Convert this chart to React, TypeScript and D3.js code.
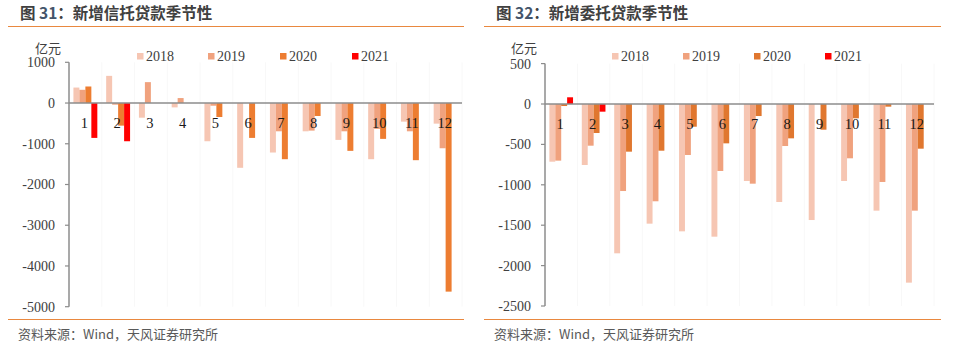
import React from "react";
import * as d3 from "d3";

const months = ["1", "2", "3", "4", "5", "6", "7", "8", "9", "10", "11", "12"];
const seriesNames = ["2018", "2019", "2020", "2021"];

// 新增信托贷款 (亿元)
const trust2018 = [380, 667, -360, -107, -938, -1590, -1215, -694, -905, -1379, -457, -506];
const trust2019 = [325, -40, 513, 122, -66, 0, -694, -677, -694, -636, -694, -1110];
const trust2020 = [406, -555, 0, 0, -343, -856, -1379, -318, -1174, -880, -1403, -4630];
const trust2021 = [-856, -938, null, null, null, null, null, null, null, null, null, null];

// 新增委托贷款 (亿元)
const entr2018 = [-714, -755, -1848, -1481, -1576, -1642, -953, -1213, -1436, -953, -1320, -2211];
const entr2019 = [-701, -516, -1077, -1204, -631, -829, -986, -520, 0, -672, -965, -1320];
const entr2020 = [-25, -359, -590, -578, -281, -487, -149, -425, -318, -177, -33, -553];
const entr2021 = [83, -95, null, null, null, null, null, null, null, null, null, null];

const leftTicks = [1000, 0, -1000, -2000, -3000, -4000, -5000];
const rightTicks = [500, 0, -500, -1000, -1500, -2000, -2500];

const colorsLeft = ["#F6C6B3", "#F0A27E", "#ED7D31", "#FF0000"];
const colorsRight = ["#F6C6B3", "#F0A27E", "#E0772F", "#FF0000"];

type PanelProps = {
  title: string;
  num: string;
  series: (number | null)[][];
  ticks: number[];
  colors: string[];
  x0: number;
  x1: number;
  yTop: number;
  yBot: number;
  dMax: number;
  dMin: number;
  lineX0: number;
  lineX1: number;
  titleX: number;
  unitX: number;
  legendX: number[];
};

const serif = "'Liberation Serif', 'Times New Roman', serif";
const cjk = "'Noto Sans CJK SC', 'Noto Sans', sans-serif";

function Panel(p: PanelProps) {
  const x = d3
    .scaleBand<string>()
    .domain(months)
    .range([p.x0, p.x1])
    .paddingInner(0.27)
    .paddingOuter(0.135);
  const xi = d3.scaleBand<string>().domain(seriesNames).range([0, x.bandwidth()]);
  const y = d3.scaleLinear().domain([p.dMin, p.dMax]).range([p.yBot, p.yTop]);
  const y0 = y(0);
  const step = x.step();

  return (
    <g>
      <text x={p.titleX} y={19} fontFamily={cjk} fontWeight={700} fontSize={15.5} fill="#404040">
        图 <tspan fill="#44546A">{p.num}</tspan>：{p.title}
      </text>
      <line x1={p.lineX0} x2={p.lineX1} y1={26.5} y2={26.5} stroke="#E9883F" strokeWidth={1.2} />
      <line x1={p.lineX0} x2={p.lineX1} y1={319.5} y2={319.5} stroke="#E9883F" strokeWidth={1.2} />
      <text x={p.titleX - 2} y={339} fontFamily={cjk} fontSize={13} fill="#595959">
        资料来源：Wind，天风证券研究所
      </text>

      {/* faint vertical grid */}
      {months.map((m, i) => (
        <line
          key={"g" + m}
          x1={p.x0 + step * (i + 1)}
          x2={p.x0 + step * (i + 1)}
          y1={p.yTop}
          y2={p.yBot}
          stroke="#F8F8F8"
          strokeWidth={1}
        />
      ))}

      {/* bars */}
      {p.series.map((vals, si) =>
        vals.map((v, mi) => {
          if (v === null || v === 0) return null;
          const bx = (x(months[mi]) as number) + (xi(seriesNames[si]) as number);
          const yy = y(v);
          return (
            <rect
              key={si + "-" + mi}
              x={bx}
              width={xi.bandwidth()}
              y={Math.min(yy, y0)}
              height={Math.abs(yy - y0)}
              fill={p.colors[si]}
            />
          );
        })
      )}

      {/* zero line */}
      <line x1={p.x0} x2={p.x1} y1={y0} y2={y0} stroke="#8C8C8C" strokeWidth={1.5} />
      {/* y axis */}
      <line x1={p.x0} x2={p.x0} y1={p.yTop} y2={p.yBot} stroke="#8C8C8C" strokeWidth={1.5} />
      {p.ticks.map((t) => (
        <g key={"t" + t}>
          <line x1={p.x0 - 4} x2={p.x0} y1={y(t)} y2={y(t)} stroke="#8C8C8C" strokeWidth={1.2} />
          <text
            x={p.x0 - 14}
            y={y(t)}
            dy="0.35em"
            textAnchor="end"
            fontFamily={serif}
            fontSize={14}
            fill="#404040"
          >
            {t}
          </text>
        </g>
      ))}

      {/* category labels */}
      {months.map((m) => (
        <text
          key={"c" + m}
          x={(x(m) as number) + x.bandwidth() / 2 - 1}
          y={y0 + 25}
          textAnchor="middle"
          fontFamily={serif}
          fontSize={14.5}
          fill="#1a1a1a"
        >
          {m}
        </text>
      ))}

      {/* unit */}
      <text x={p.unitX} y={52.5} fontFamily={cjk} fontSize={13} fill="#404040">
        亿元
      </text>

      {/* legend */}
      {seriesNames.map((s, i) => (
        <g key={"l" + s}>
          <rect x={p.legendX[i]} y={53} width={6.5} height={6.5} fill={p.colors[i]} />
          <text x={p.legendX[i] + 9} y={61} fontFamily={serif} fontSize={14} fill="#404040">
            {s}
          </text>
        </g>
      ))}
    </g>
  );
}

export default function App() {
  return (
    <svg width={953} height={348} style={{ position: "absolute", left: 0, top: 0, background: "#fff" }}>
      <rect width={953} height={348} fill="#fff" />
      <Panel
        title="新增信托贷款季节性"
        num="31"
        series={[trust2018, trust2019, trust2020, trust2021]}
        ticks={leftTicks}
        colors={colorsLeft}
        x0={69}
        x1={462}
        yTop={62.3}
        yBot={306.7}
        dMax={1000}
        dMin={-5000}
        lineX0={8}
        lineX1={464}
        titleX={20}
        unitX={35}
        legendX={[137, 208, 280, 352]}
      />
      <Panel
        title="新增委托贷款季节性"
        num="32"
        series={[entr2018, entr2019, entr2020, entr2021]}
        ticks={rightTicks}
        colors={colorsRight}
        x0={545}
        x1={934}
        yTop={63.6}
        yBot={306}
        dMax={500}
        dMin={-2500}
        lineX0={484}
        lineX1={941}
        titleX={496}
        unitX={511}
        legendX={[612, 683, 754, 825]}
      />
    </svg>
  );
}
